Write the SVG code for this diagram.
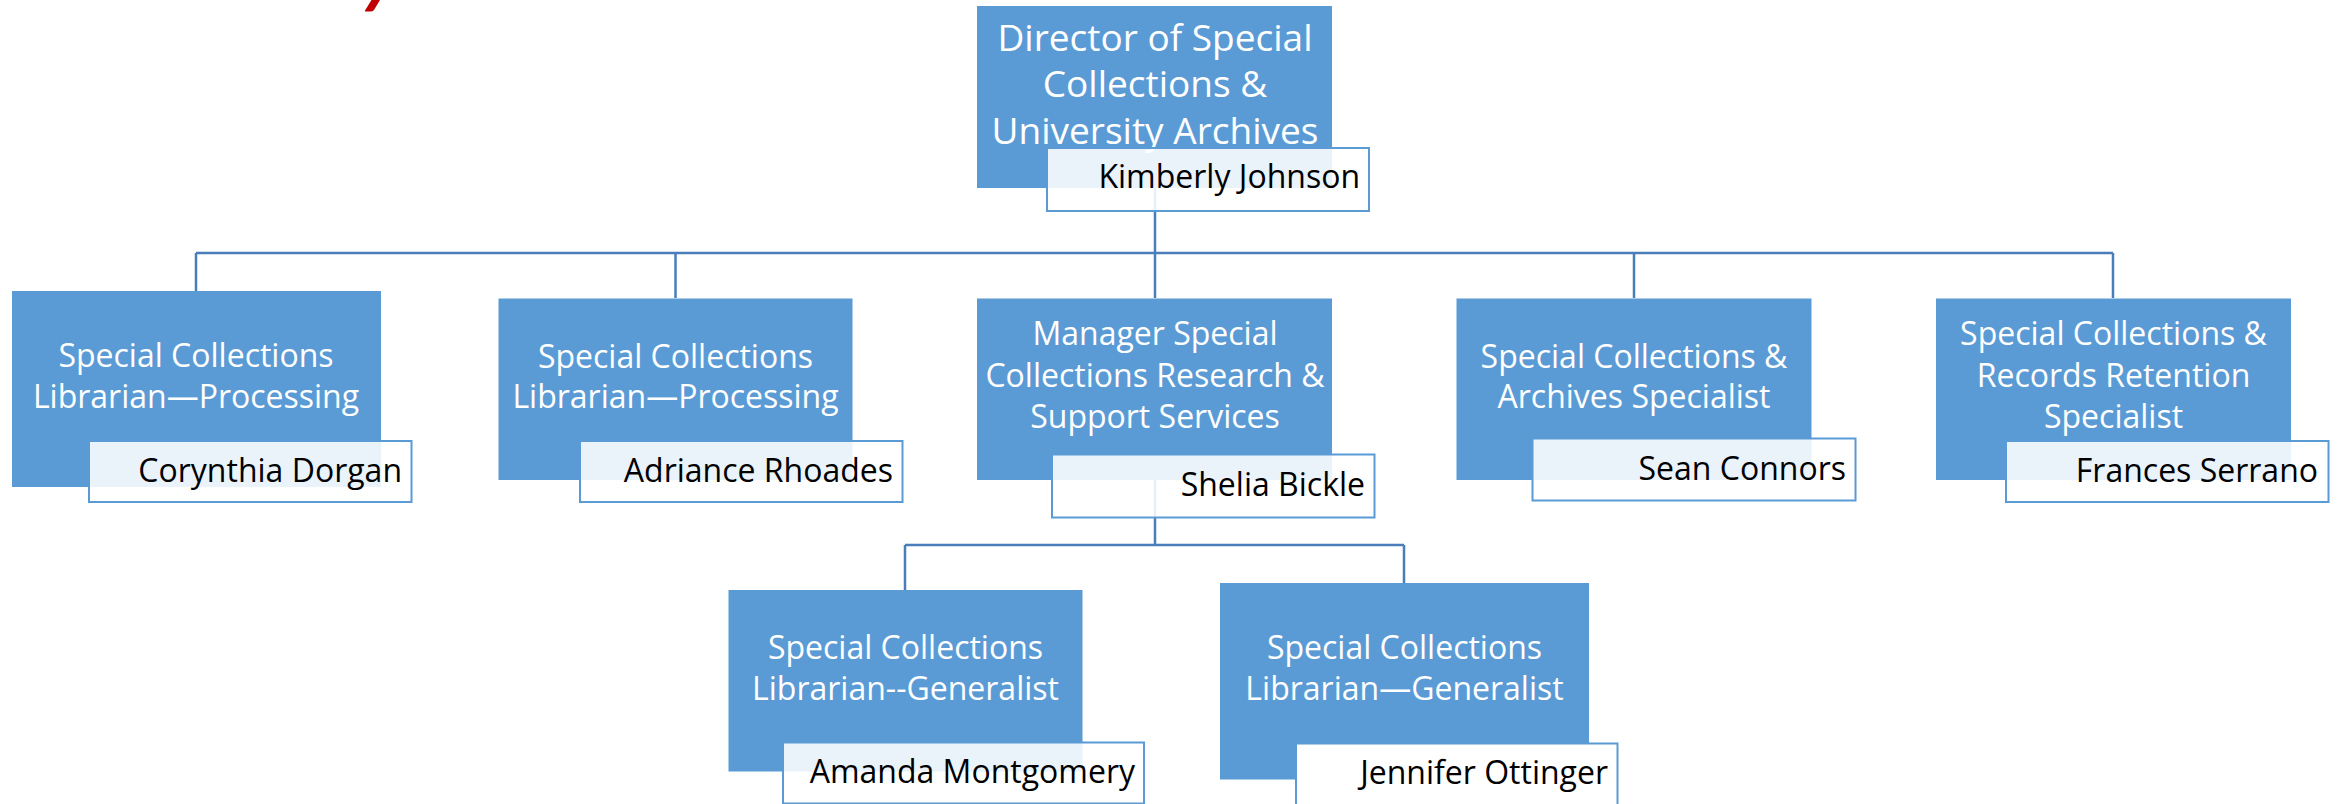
<svg xmlns="http://www.w3.org/2000/svg" width="2341" height="804" viewBox="0 0 2341 804">
<style>
.box{fill:#5B9BD5;}
.nm{fill:#FFFFFF;fill-opacity:0.87;stroke:#5B9BD5;stroke-width:2;}
.nmo{fill:#FFFFFF;stroke:#5B9BD5;stroke-width:2;}
.t{font-family:"Open Sans","Liberation Sans",sans-serif;font-size:32px;fill:#FFFFFF;text-anchor:middle;}
.tt{font-family:"Open Sans","Liberation Sans",sans-serif;font-size:37px;fill:#FFFFFF;text-anchor:middle;}
.n{font-family:"Open Sans","Liberation Sans",sans-serif;font-size:32px;fill:#000000;text-anchor:end;}
.c{fill:none;stroke:#4A7EBB;stroke-width:2.5;}
</style>
<rect width="2341" height="804" fill="#FFFFFF"/>
<path d="M371.5 0 H380 L374 10 Q373 11.5 370 11.5 H365.5 Q364.5 11.5 365 10.5 Z" fill="#C00000"/>
<g id="connectors">
<path class="c" d="M1155 188 V253 M196 253 H2113 M196 253 V291 M675.5 253 V298 M1155 253 V298 M1634 253 V298 M2113 253 V298"/>
<path class="c" d="M1155 480 V545 M905 545 H1404 M905 545 V590 M1404 545 V583"/>
</g>
<g id="node-director">
<rect class="box" x="977" y="6" width="355" height="182"/>
<text class="tt" x="1155" y="51">Director of Special</text>
<text class="tt" x="1155" y="97">Collections &amp;</text>
<text class="tt" x="1155" y="144">University Archives</text>
<rect class="nm" x="1047" y="148" width="322" height="63"/>
<text class="n" x="1360" y="188">Kimberly Johnson</text>
</g>
<g id="node-dorgan">
<rect class="box" x="12" y="291" width="369" height="196"/>
<text class="t" x="196" y="367">Special Collections</text>
<text class="t" x="196" y="407.5">Librarian—Processing</text>
<rect class="nm" x="89" y="441" width="322.5" height="61"/>
<text class="n" x="402" y="482">Corynthia Dorgan</text>
</g>
<g id="node-rhoades">
<rect class="box" x="498.5" y="298.5" width="354" height="181.5"/>
<text class="t" x="675.5" y="367.5">Special Collections</text>
<text class="t" x="675.5" y="408">Librarian—Processing</text>
<rect class="nm" x="580" y="441" width="322.5" height="61"/>
<text class="n" x="893" y="482">Adriance Rhoades</text>
</g>
<g id="node-bickle">
<rect class="box" x="977" y="298.5" width="355" height="181.5"/>
<text class="t" x="1155" y="345">Manager Special</text>
<text class="t" x="1155" y="387">Collections Research &amp;</text>
<text class="t" x="1155" y="427.5">Support Services</text>
<rect class="nm" x="1052" y="454.5" width="322.5" height="63"/>
<text class="n" x="1365" y="496">Shelia Bickle</text>
</g>
<g id="node-connors">
<rect class="box" x="1456.5" y="298.5" width="355" height="181.5"/>
<text class="t" x="1634" y="367.5">Special Collections &amp;</text>
<text class="t" x="1634" y="408">Archives Specialist</text>
<rect class="nm" x="1532.5" y="438.5" width="323" height="62"/>
<text class="n" x="1846" y="480">Sean Connors</text>
</g>
<g id="node-serrano">
<rect class="box" x="1936" y="298.5" width="355" height="181.5"/>
<text class="t" x="2113.5" y="345">Special Collections &amp;</text>
<text class="t" x="2113.5" y="387.3">Records Retention</text>
<text class="t" x="2113.5" y="427.5">Specialist</text>
<rect class="nm" x="2006" y="441" width="322.5" height="61"/>
<text class="n" x="2318" y="482">Frances Serrano</text>
</g>
<g id="node-montgomery">
<rect class="box" x="728.5" y="590" width="354" height="181.5"/>
<text class="t" x="905.5" y="659">Special Collections</text>
<text class="t" x="905.5" y="699.5">Librarian--Generalist</text>
<rect class="nm" x="783" y="742.5" width="361" height="61"/>
<text class="n" x="1135" y="783">Amanda Montgomery</text>
</g>
<g id="node-ottinger">
<rect class="box" x="1220" y="583" width="369" height="196.5"/>
<text class="t" x="1404.5" y="659">Special Collections</text>
<text class="t" x="1404.5" y="699.5">Librarian—Generalist</text>
<rect class="nmo" x="1296" y="743.5" width="321.5" height="64"/>
<text class="n" x="1608" y="783.5">Jennifer Ottinger</text>
</g>
</svg>
